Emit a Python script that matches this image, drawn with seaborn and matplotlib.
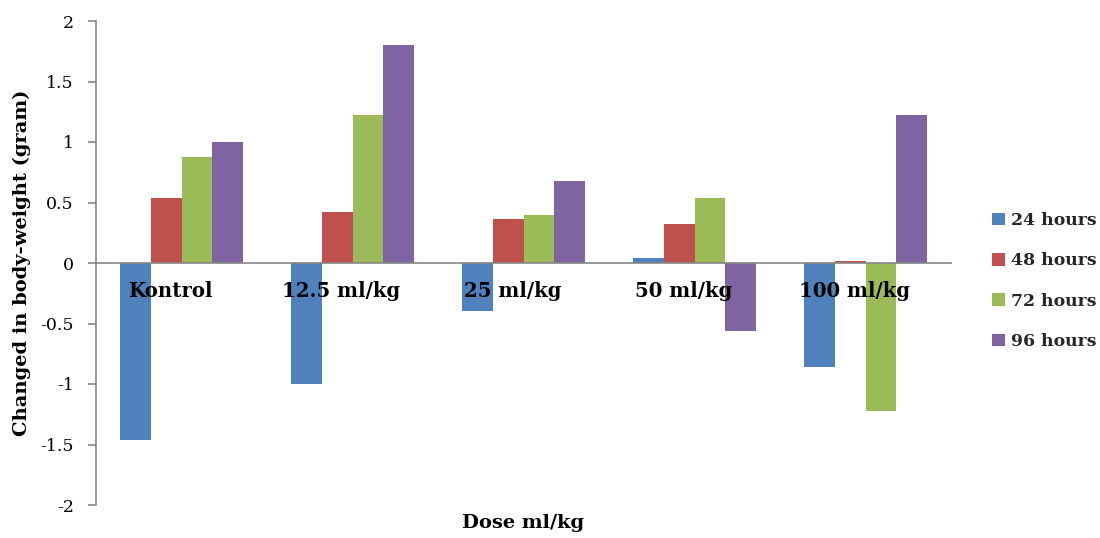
import matplotlib
matplotlib.use("Agg")
import matplotlib.pyplot as plt
import matplotlib.transforms as mtransforms
import seaborn as sns
import pandas as pd
from matplotlib.ticker import FixedLocator, FixedFormatter

# Dose groups and the change in body weight at each time point
doses = ["Kontrol", "12.5 ml/kg", "25 ml/kg", "50 ml/kg", "100 ml/kg"]
times = ["24 hours", "48 hours", "72 hours", "96 hours"]
h24 = [-1.46, -1.00, -0.40, 0.04, -0.86]
h48 = [0.54, 0.42, 0.36, 0.32, 0.02]
h72 = [0.88, 1.22, 0.40, 0.54, -1.22]
h96 = [1.00, 1.80, 0.68, -0.56, 1.22]
y_ticks = [-2, -1.5, -1, -0.5, 0, 0.5, 1, 1.5, 2]
y_tick_labels = ["-2", "-1.5", "-1", "-0.5", "0", "0.5", "1", "1.5", "2"]

colors = ["#4F81BD", "#C0504D", "#9BBB59", "#8064A2"]

rows = []
for t, vals in zip(times, [h24, h48, h72, h96]):
    for d, v in zip(doses, vals):
        rows.append({"dose": d, "time": t, "value": v})
df = pd.DataFrame(rows)

sns.set_style("white")
plt.rcParams["font.family"] = ["DejaVu Serif"]

fig = plt.figure(figsize=(11, 5.38), dpi=100)
ax = fig.add_axes([96 / 1100, 1 - 505 / 538, 855 / 1100, 484 / 538])

sns.barplot(data=df, x="dose", y="value", hue="time", order=doses,
            hue_order=times, palette=colors, saturation=1, width=0.725,
            errorbar=None, linewidth=0, ax=ax)

# category names are drawn over the bars
ax.set_axisbelow(False)

ax.set_ylim(-2, 2)
ax.set_xlim(-0.5, len(doses) - 0.5)
ax.yaxis.set_major_locator(FixedLocator(y_ticks))
ax.yaxis.set_major_formatter(FixedFormatter(y_tick_labels))

spine_color = "#868686"
for side in ["top", "right"]:
    ax.spines[side].set_visible(False)
for side in ["left", "bottom"]:
    ax.spines[side].set_color(spine_color)
    ax.spines[side].set_linewidth(1.2)
ax.spines["bottom"].set_position(("data", 0))

# category names sit just under the zero line; boundary ticks point down
ax.set_xticks(range(len(doses)))
ax.set_xticklabels(doses, fontsize=14.2, fontweight="bold", color="black")
ax.tick_params(axis="x", which="major", length=0, pad=13)
ax.set_xticks([i - 0.5 for i in range(len(doses) + 1)], minor=True)
ax.tick_params(axis="x", which="minor", length=6, width=1.2,
               color=spine_color, direction="out")
ax.tick_params(axis="y", length=6, width=1.2, color=spine_color,
               direction="out", labelsize=12.5, pad=10, labelcolor="black",
               left=True)

# nudge the category names slightly left of the group centres
shift = mtransforms.ScaledTranslation(-0.11, 0, fig.dpi_scale_trans)
for lbl in ax.get_xticklabels():
    lbl.set_transform(lbl.get_transform() + shift)

ax.set_xlabel("")
ax.set_ylabel("Changed in body-weight (gram)", fontsize=14,
              fontweight="bold", color="black")
ax.yaxis.set_label_coords(-0.076, 0.5)
fig.text(523 / 1100, 1 - 523 / 538, "Dose ml/kg", fontsize=14,
         fontweight="bold", ha="center", va="center", color="black")

handles, labels = ax.get_legend_handles_labels()
ax.legend(handles, labels, loc="center left",
          bbox_to_anchor=(983 / 1100, 1 - 281 / 538),
          bbox_transform=fig.transFigure, frameon=False, borderpad=0,
          handlelength=0.75, handleheight=0.75, handletextpad=0.35,
          labelspacing=1.35, prop={"family": "DejaVu Serif", "weight": "bold",
                                   "size": 12.4})

fig.savefig("out.png", dpi=100)
